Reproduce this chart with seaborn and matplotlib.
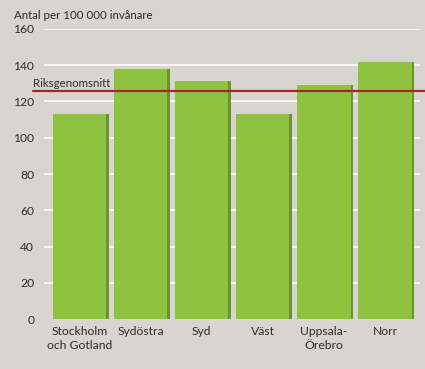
import matplotlib.pyplot as plt
import matplotlib.patheffects as pe
import seaborn as sns
import pandas as pd

regioner = ['Stockholm\noch Gotland', 'Sydöstra', 'Syd', 'Väst', 'Uppsala-\nÖrebro', 'Norr']
antal = [113, 138, 131, 113, 129, 141.5]
riksgenomsnitt = 126
yticks = [0, 20, 40, 60, 80, 100, 120, 140, 160]

df = pd.DataFrame({'Region': regioner, 'Antal': antal})

sns.set_style('white')
plt.rcParams['font.family'] = ['Lato', 'DejaVu Sans']

bg = '#d8d5cf'
txt = '#2b2b2b'
fs = 8.3
fig = plt.figure(figsize=(4.25, 3.69), dpi=100, facecolor=bg)
ax = fig.add_axes([0.1035, 0.1347, 0.8845, 0.7873], facecolor=bg)

# vita stödlinjer bakom staplarna
for t in yticks[1:]:
    ax.axhline(t, color='white', lw=1.2, zorder=0)

sns.barplot(data=df, x='Region', y='Antal', color='#8dc33f', saturation=1,
            width=0.87, linewidth=0, edgecolor='none', ax=ax, zorder=2)
for p in ax.patches:
    p.set_path_effects([pe.SimplePatchShadow(offset=(2, 0), shadow_rgbFace='#6a942e', alpha=1),
                        pe.Normal()])

# riksgenomsnitt
ax.plot([-0.03, 1.02], [riksgenomsnitt, riksgenomsnitt], transform=ax.get_yaxis_transform(),
        color='#a3262e', lw=1.6, clip_on=False, zorder=3)
ax.text(-0.03, riksgenomsnitt + 0.8, 'Riksgenomsnitt', transform=ax.get_yaxis_transform(),
        fontsize=fs, color=txt, ha='left', va='bottom', zorder=4)

ax.set_xlim(-0.58, 5.57)
ax.set_ylim(0, 160)
ax.set_yticks(yticks)
ax.tick_params(axis='both', length=0, labelsize=fs + 0.4, labelcolor=txt)
ax.tick_params(axis='y', pad=7)
ax.tick_params(axis='x', pad=5)
for lab in ax.get_xticklabels():
    lab.set_linespacing(1.3)
ax.set_xlabel('')
ax.set_ylabel('')
sns.despine(ax=ax, left=True, bottom=True)

fig.text(0.033, 0.958, 'Antal per 100 000 invånare', fontsize=fs, color=txt,
         ha='left', va='center')

plt.savefig('out.png', dpi=100, facecolor=bg)
